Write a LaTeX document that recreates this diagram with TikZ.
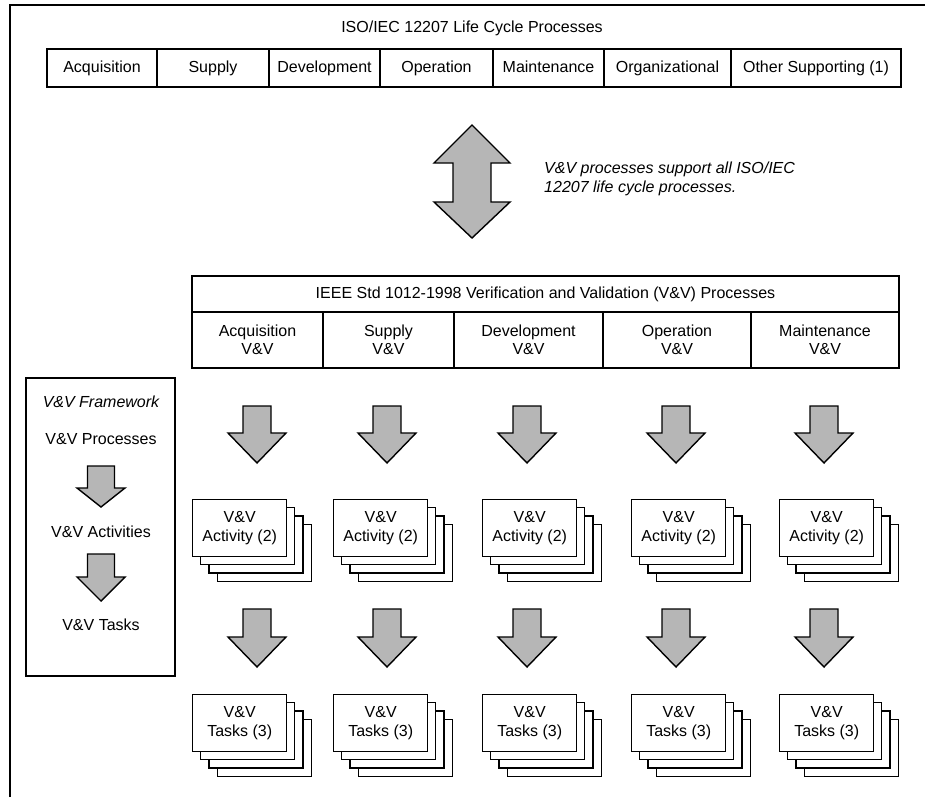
\documentclass[tikz,border=0pt]{standalone}
\usepackage{fontspec}
\setmainfont{Liberation Sans}
\begin{document}
\begin{tikzpicture}[x=1pt,y=-1pt,
  every node/.style={font=\fontsize{16}{18.5}\selectfont},
  frameline/.style={line width=2pt},
  boxline/.style={line width=1.4pt},
  cell/.style={draw, line width=1.4pt, inner sep=0pt, align=center},
  onecell/.style={cell, text height=12pt, text depth=3.5pt, minimum height=38pt},
  blockarrow/.style={draw, line width=1.4pt, fill=arrowgray, line join=miter},
  front/.style={draw, line width=1.4pt, fill=white, inner sep=0pt, align=center,
    minimum width=94pt, minimum height=57pt, anchor=north west},
  plain/.style={inner sep=0pt, align=center}]
\definecolor{arrowgray}{RGB}{182,182,182}
\useasboundingbox (0,0) rectangle (925,797);
% page frame
\draw[frameline] (10,797) -- (10,5) -- (925,5);
% title
\node[plain] (title) at (472,28) {ISO/IEC 12207 Life Cycle Processes};
% top table
\node[onecell, minimum width=110pt] (t1) at (102,68) {Acquisition};
\node[onecell, minimum width=112pt] (t2) at (213,68) {Supply};
\node[onecell, minimum width=111pt] (t3) at (324.5,68) {Development};
\node[onecell, minimum width=113pt] (t4) at (436.5,68) {Operation};
\node[onecell, minimum width=111pt] (t5) at (548.5,68) {Maintenance};
\node[onecell, minimum width=127pt] (t6) at (667.5,68) {Organizational};
\node[onecell, minimum width=170pt] (t7) at (816,68) {Other Supporting (1)};
% double arrow
\draw[blockarrow] (472,125) -- (510,163) -- (491,163) -- (491,202) -- (510,202)
  -- (472,238) -- (434,202) -- (453,202) -- (453,163) -- (434,163) -- cycle;
\node[plain, anchor=west, align=left, font=\fontsize{16}{18.5}\selectfont\itshape] (note) at (544,179)
  {V\&V processes support all ISO/IEC\\12207 life cycle processes.};
% IEEE table
\node[cell, minimum width=707pt, minimum height=36pt, text height=12pt, text depth=3.5pt] (ieee) at (545.5,294)
  {IEEE Std 1012-1998 Verification and Validation (V\&V) Processes};
\node[cell, minimum width=131pt, minimum height=56pt] (p1) at (257.5,340) {Acquisition\\V\&V};
\node[cell, minimum width=131pt, minimum height=56pt] (p2) at (388.5,340) {Supply\\V\&V};
\node[cell, minimum width=149pt, minimum height=56pt] (p3) at (528.5,340) {Development\\V\&V};
\node[cell, minimum width=148pt, minimum height=56pt] (p4) at (677,340) {Operation\\V\&V};
\node[cell, minimum width=148pt, minimum height=56pt] (p5) at (825,340) {Maintenance\\V\&V};
% framework box
\node[draw, line width=1.4pt, minimum width=149pt, minimum height=298pt, inner sep=0pt] (fw) at (100.5,527) {};
\node[plain, font=\fontsize{16}{18.5}\selectfont\itshape] (fwt) at (101,402) {V\&V Framework};
\node[plain] (fwp) at (101,439) {V\&V Processes};
\node[plain] (fwa) at (101,532) {V\&V Activities};
\node[plain] (fwk) at (101,625) {V\&V Tasks};
\draw[blockarrow] (87.5,466) -- (114.5,466) -- (114.5,488) -- (125,488) -- (101,507)
  -- (77,488) -- (87.5,488) -- cycle;
\draw[blockarrow] (87.5,554) -- (114.5,554) -- (114.5,577) -- (125,577) -- (101,601)
  -- (77,577) -- (87.5,577) -- cycle;
% column arrows and stacks
\foreach \cx/\lx/\n in {257/192/1, 387/333/2, 527/482/3, 676/631/4, 824/779/5} {
  \draw[blockarrow] (\cx-14,406) -- (\cx+14,406) -- (\cx+14,433) -- (\cx+29,433) -- (\cx,463)
    -- (\cx-29,433) -- (\cx-14,433) -- cycle;
  \draw[blockarrow] (\cx-14,609) -- (\cx+14,609) -- (\cx+14,637) -- (\cx+29,637) -- (\cx,667)
    -- (\cx-29,637) -- (\cx-14,637) -- cycle;
  \foreach \k in {3,2,1} {
    \draw[boxline, fill=white] ({\lx+8.4*\k},{499+8.4*\k}) rectangle ++(94,57);
    \draw[boxline, fill=white] ({\lx+8.4*\k},{694+8.4*\k}) rectangle ++(94,57);
  }
  \node[front] (act\n) at (\lx,499) {V\&V\\Activity (2)};
  \node[front] (task\n) at (\lx,694) {V\&V\\Tasks (3)};
}
\end{tikzpicture}
\end{document}
